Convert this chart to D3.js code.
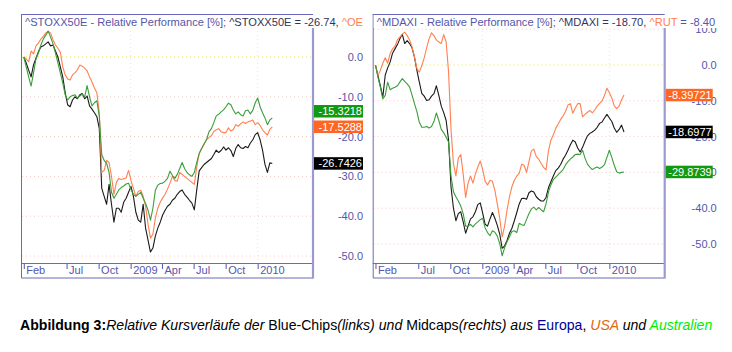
<!DOCTYPE html>
<html>
<head>
<meta charset="utf-8">
<script src="https://cdn.jsdelivr.net/npm/d3@7"></script>
<style>
  body { margin: 0; background: #fff; }
  svg { display: block; font-family: "Liberation Sans", Arial, sans-serif; }
</style>
</head>
<body>
<svg id="chart" width="732" height="352"></svg>
<script>
'use strict';

// weekly closes, relative performance in % since end of Feb 2008
const startDate = new Date(2008, 1, 29);

const stoxx = [0, -1.5, -3.3, -5, -2, -0.3, 1.3, 2.5, 2.8, 3.3, 3.8, 2.8, 3, 1.5, 0, -2.5, -5, -9, -12, -12.5,
    -10.8, -10, -10.5, -9.5, -9.2, -10.5, -9.8, -12.3, -13.1, -14, -15, -18, -33, -35, -37, -32, -37, -41.5, -38, -38,
    -39, -36.5, -35.5, -34, -32.5, -35, -39, -41, -41.5, -37, -43, -46, -49, -48, -45, -43, -41.5, -39.7, -38.5, -37.5,
    -37, -36, -35.5, -34.5, -33.8, -33.4, -34.5, -35.2, -36, -36.7, -38.4, -33.4, -28.6, -27.8, -27, -26.5, -26, -25.5, -24.5, -23.4,
    -24, -23.5, -22.6, -23.4, -22.8, -23.5, -25, -23, -22, -22.8, -23, -22.5, -22.8, -21.6, -20.8, -19.5, -19, -20.8, -23.4, -27,
    -29, -26.6, -26.74];
const usLarge = [0, -0.5, -1.2, 1.5, 0.8, 2.8, 3.5, 4.5, 5.2, 6, 6.5, 6, 4.3, 3, 2.2, 1.2, -2.5, -4.5, -5.5, -5.8,
    -4.5, -4, -3.2, -2, -2.3, -2.8, -3.5, -5, -6.3, -7.8, -9, -14, -29, -28.5, -26, -26.5, -30, -34.5, -31.5, -30.5,
    -30.8, -30.6, -30.4, -28.5, -31, -33, -35, -33.8, -33.5, -35, -37.5, -42, -45.5, -44.5, -40.5, -38, -36.5, -35.4, -34.5, -33.2,
    -31.7, -30, -31, -31.2, -29, -29.5, -30, -30.5, -31, -31.5, -32, -27.6, -24.3, -23, -22, -20.8, -20.2, -19.8, -18.7, -18.3,
    -18, -18.8, -19, -19, -17.8, -18.6, -18.2, -17, -17.4, -16.8, -16.3, -16.7, -16.3, -16.1, -15.8, -17, -16.5, -17.2, -18.3, -19,
    -19.6, -18.2, -17.53];
const ausLarge = [0, -2.5, -5, -7.3, -4, -0.5, 1, 3, 4.5, 5.5, 6.5, 5, 3.3, 1, -1.5, -4, -6.5, -9.5, -10.8, -10,
    -9.7, -9.5, -10.3, -9.8, -9.3, -10, -7.2, -10, -12.3, -11.5, -11, -15, -24.5, -26, -26.7, -29, -34, -35.5, -34.5, -33.4,
    -32.8, -32.4, -31.9, -31.7, -33.3, -34.5, -35, -34.5, -34, -35.5, -36.8, -38.5, -41, -38, -33.5, -32.2, -31.8, -31.7, -31.2, -30.5,
    -28.7, -29.8, -30.5, -29.5, -28, -26.5, -28, -29, -29.6, -30, -29, -26.5, -24.2, -23, -21.8, -20.8, -18.8, -18, -16.5, -14.8,
    -14.4, -13.8, -13.3, -12.5, -11.6, -12, -13.3, -14.3, -13.8, -14.5, -14.8, -13.5, -13.3, -14.3, -13.4, -11.5, -10.3, -12.5, -14, -15.3,
    -17, -15.8, -15.32];

const mdax = [0, -3, -5.8, -9, -2.8, -0.8, 0.8, 3.3, 4.5, 5.7, 7.3, 8.6, 6, 6.8, 6, 4.8, 2.2, -1.5, -4.8, -7.9,
    -8.7, -9.9, -9.7, -8.7, -8, -5.8, -8.5, -11.5, -13.3, -15.5, -21, -34, -40, -43.5, -41.5, -41, -43.8, -47, -45, -43,
    -42.4, -41, -39, -38.5, -41.4, -44.5, -45, -43, -41.2, -42.8, -44.8, -47.2, -51.2, -50.5, -49, -47, -45.6, -43.5, -41.2, -38.8,
    -37.3, -37.2, -37.5, -35.7, -35.2, -35.5, -36.8, -37.5, -38, -38, -37, -34.3, -32.6, -31, -29.5, -28.8, -27.8, -26.3, -25.2, -23.8,
    -22.3, -21, -21.5, -23.2, -24.3, -23, -21.3, -19.8, -19.1, -18.7, -18.2, -17.4, -16.3, -15.9, -14.8, -13.8, -14.8, -15.8, -17.6, -18.8,
    -18, -16.8, -18.7];
const rut = [0, -3, -1.5, 0.5, 2, 0.5, 3.2, 4.5, 5.3, 7, 7.8, 8.6, 9.2, 8.2, 7, 5, 2.3, -1, -2, -0.2,
    2, 4.8, 7.3, 9, 8.2, 7, 6.4, 6, 8.5, 6.5, -2, -18, -27.5, -31, -26, -25, -30.5, -37, -33, -31,
    -33, -30.5, -28.5, -26.8, -29.2, -32.5, -33.5, -32.2, -32.5, -35, -38.8, -42.8, -48, -45, -40.5, -36.8, -34, -32.2, -31, -30.3,
    -27.7, -28, -30, -27, -24, -23.5, -25.6, -26.3, -27.5, -28.6, -29.3, -24, -21, -19.5, -17.7, -16.5, -15.2, -14.2, -13, -11.2,
    -10.8, -13.5, -12, -10.8, -10.8, -14.5, -13.8, -13.2, -12.7, -13.4, -12.5, -11.5, -10.7, -10, -8.5, -6.5, -7.7, -9.2, -11.4, -12.2,
    -11.5, -9.7, -8.4];
const ausMid = [0, -3.4, -6.2, -9.5, -8.5, -4.8, -6.9, -6.5, -6.2, -5.8, -4.8, -3.8, -4.6, -5.3, -6.1, -8.4, -10.8, -13, -16, -17.4,
    -17.4, -17.2, -17.6, -17.2, -15.8, -13.4, -15.5, -18, -18.9, -20.2, -21.5, -31, -35.4, -36.8, -38, -39.4, -41.5, -45, -45, -44.5,
    -45.2, -44.4, -43.8, -43.2, -42.8, -45.5, -46.8, -47.7, -46.3, -46.7, -47.8, -49.9, -53.3, -51, -49.4, -48, -46.5, -46.3, -46.8, -44.2,
    -44.6, -44.8, -43.2, -41.5, -40.2, -39.7, -40.5, -39.8, -40.5, -41, -38.8, -35.5, -33.5, -32, -31.3, -30.6, -29.9, -29.2, -27.9, -27,
    -26.3, -25.7, -25, -24.9, -25, -23.8, -26, -27.7, -28.5, -29.2, -28.8, -28.5, -28.9, -28.5, -27.8, -25.8, -23.8, -25.8, -28, -29.8,
    -30.2, -30, -29.87];

const finalLeft = [-26.7426, -17.5288, -15.3218];
const finalRight = [-18.6977, -8.39721, -29.8739];

const tickDates = [startDate, new Date(2008, 6, 1), new Date(2008, 9, 1), new Date(2009, 0, 1),
    new Date(2009, 3, 1), new Date(2009, 6, 1), new Date(2009, 9, 1), new Date(2010, 0, 1)];
const tickLabels = ['Feb', 'Jul', 'Oct', '2009', 'Apr', 'Jul', 'Oct', '2010'];
const yTicks = [10, 0, -10, -20, -30, -40, -50];

(function () {
    const dates = d3.range(stoxx.length).map(i => d3.timeDay.offset(startDate, 7 * i));

    const colors = {black: '#1a1a1a', orange: '#ff8050', green: '#3a9e3a'};
    const blue = '#5555aa';

    const panels = [
        {
            dx: 0, y0: 57, y50: 256, labelX: 363, boxW: 49,
            series: [stoxx, usLarge, ausLarge], finals: finalLeft,
            title: [['^STOXX50E - Relative Performance [%]; ', blue], ['^STOXX50E = -26.74, ', '#333355'], ['^OE', '#ff8050']]
        },
        {
            dx: 351.7, y0: 65, y50: 244, labelX: 365, boxW: 47,
            series: [mdax, rut, ausMid], finals: finalRight,
            title: [['^MDAXI - Relative Performance [%]; ', blue], ['^MDAXI = -18.70, ', '#333366'], ['^RUT', '#ff8050'], [' = -8.40', blue]]
        }
    ];

    const svg = d3.select('#chart');

    const x = d3.scaleTime()
        .domain([new Date(2008, 1, 21), new Date(2010, 5, 9)])
        .range([21, 313]);

    const plotTop = 14, plotBottom = 263, frameBottom = 278, plotLeft = 21, plotRight = 313;

    svg.append('defs').append('clipPath')
        .attr('id', 'clip-left-title')
        .append('rect')
        .attr('x', 0).attr('y', 0).attr('width', 369).attr('height', 40);

    panels.forEach((p, pi) => {
        const g = svg.append('g').attr('transform', `translate(${p.dx},0)`);
        const y = d3.scaleLinear().domain([0, -50]).range([p.y0, p.y50]);

        // grid
        g.append('g').selectAll('line')
            .data(yTicks.filter(v => y(v) > plotTop + 2))
            .join('line')
            .attr('x1', plotLeft + 1).attr('x2', plotRight)
            .attr('y1', d => y(d)).attr('y2', d => y(d))
            .attr('stroke', d => d === 0 ? '#e6e24a' : '#f2c6c6')
            .attr('stroke-dasharray', '1,3');

        g.append('g').selectAll('line')
            .data([new Date(2009, 0, 1), new Date(2010, 0, 1)])
            .join('line')
            .attr('x1', d => x(d)).attr('x2', d => x(d))
            .attr('y1', plotTop + 1).attr('y2', plotBottom)
            .attr('stroke', '#e4e4ee')
            .attr('stroke-dasharray', '1,3');

        // series
        const line = d3.line()
            .x((d, i) => x(dates[i]))
            .y(d => y(d));

        const lineColors = [colors.black, colors.orange, colors.green];
        p.series.forEach((s, si) => {
            g.append('path')
                .datum(s)
                .attr('fill', 'none')
                .attr('stroke', lineColors[si])
                .attr('stroke-width', 1.1)
                .attr('stroke-linejoin', 'round')
                .attr('d', line);
        });

        // x axis band
        const xAxis = g.append('g')
            .attr('transform', `translate(0,${plotBottom + 1})`)
            .call(d3.axisBottom(x)
                .tickValues(tickDates)
                .tickSize(5)
                .tickFormat((d, i) => tickLabels[i]));
        xAxis.select('.domain').remove();
        xAxis.selectAll('line').attr('stroke', blue);
        xAxis.selectAll('text')
            .attr('x', 2).attr('y', 2).attr('dy', '0.71em')
            .attr('text-anchor', 'start')
            .attr('fill', blue)
            .attr('font-size', 11)
            .attr('font-family', '"Liberation Sans", Arial, sans-serif');

        // y tick labels on the right (the ones under the title band are not shown)
        const yAxis = g.append('g')
            .attr('transform', `translate(${p.labelX},0)`)
            .call(d3.axisRight(y)
                .tickValues(yTicks.filter(v => y(v) > 24))
                .tickSize(0)
                .tickFormat(d => d.toFixed(1)));
        yAxis.select('.domain').remove();
        yAxis.selectAll('text')
            .attr('x', 0)
            .attr('text-anchor', 'end')
            .attr('fill', blue)
            .attr('font-size', 11)
            .attr('font-family', '"Liberation Sans", Arial, sans-serif');

        // frame
        g.append('path')
            .attr('d', `M${plotLeft + 0.5},${plotTop}V${frameBottom}H${plotRight}M${plotLeft},${plotTop + 0.5}H${plotRight}M${plotLeft},${plotBottom + 0.5}H${plotRight}`)
            .attr('fill', 'none')
            .attr('stroke', '#6a6ab8')
            .attr('stroke-width', 1);
        g.append('line')
            .attr('x1', plotRight).attr('x2', plotRight)
            .attr('y1', 28).attr('y2', frameBottom + 0.5)
            .attr('stroke', '#9a9ad0')
            .attr('stroke-width', 2.2);

        // title
        const tg = svg.append('g');
        if (pi === 0) tg.attr('clip-path', 'url(#clip-left-title)');
        tg.append('rect')
            .attr('x', p.dx + plotLeft + 1).attr('y', plotTop + 1)
            .attr('width', 347).attr('height', 13)
            .attr('fill', '#fff');
        const title = tg.append('text')
            .attr('x', p.dx + 25).attr('y', 26)
            .attr('font-size', 11.1);
        p.title.forEach(([t, c]) => title.append('tspan').attr('fill', c).text(t));

        // last-value boxes with simple collision handling
        const boxH = 12.5;
        const boxes = p.finals.map((v, i) => ({v, c: lineColors[i], y: y(v)}))
            .sort((a, b) => b.y - a.y);
        for (let i = 1; i < boxes.length; i++) {
            if (boxes[i - 1].y - boxes[i].y < boxH + 3) boxes[i].y = boxes[i - 1].y - boxH - 3;
        }
        const boxColors = {[colors.black]: '#000', [colors.orange]: '#ff6622', [colors.green]: '#119911'};
        boxes.forEach(b => {
            g.append('rect')
                .attr('x', plotRight + 1).attr('y', b.y - boxH / 2)
                .attr('width', p.boxW).attr('height', boxH)
                .attr('fill', boxColors[b.c]);
            g.append('text')
                .attr('x', plotRight + p.boxW).attr('y', b.y)
                .attr('dy', '0.36em')
                .attr('text-anchor', 'end')
                .attr('fill', '#fff')
                .attr('font-size', 11)
                .text(b.v.toString());
        });
    });

    // caption
    const caption = svg.append('text')
        .attr('x', 20).attr('y', 330)
        .attr('font-size', 14.1)
        .attr('fill', '#000');
    const parts = [
        ['Abbildung 3:', 'bold', 'normal', '#000'],
        ['Relative Kursverläufe der ', 'normal', 'italic', '#000'],
        ['Blue-Chips', 'normal', 'normal', '#000'],
        ['(links) und ', 'normal', 'italic', '#000'],
        ['Midcaps', 'normal', 'normal', '#000'],
        ['(rechts) aus ', 'normal', 'italic', '#000'],
        ['Europa', 'normal', 'normal', '#000099'],
        [', ', 'normal', 'normal', '#000'],
        ['USA', 'normal', 'italic', '#e06a10'],
        [' und ', 'normal', 'italic', '#000'],
        ['Australien', 'normal', 'italic', '#00ee00']
    ];
    parts.forEach(([t, w, s, c]) => caption.append('tspan')
        .attr('font-weight', w).attr('font-style', s).attr('fill', c).text(t));
})();
</script>
</body>
</html>
